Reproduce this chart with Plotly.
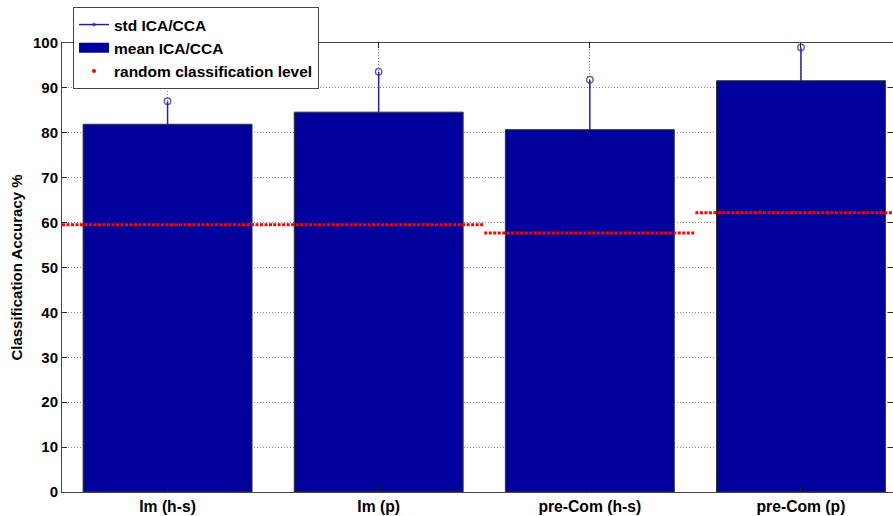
import plotly.graph_objects as go

categories = ["Im (h-s)", "Im (p)", "pre-Com (h-s)", "pre-Com (p)"]
mean_acc = [81.9, 84.6, 80.7, 91.6]
std_acc = [5.1, 9.0, 11.1, 7.4]
random_level = [59.5, 59.5, 57.7, 62.2]
y_ticks = [0, 10, 20, 30, 40, 50, 60, 70, 80, 90, 100]

xs = list(range(1, len(categories) + 1))
FONT = "Liberation Sans, Arial, sans-serif"
BLUE = "#00009a"
STEM = "#2323a8"

fig = go.Figure()

# std stems with circle at top
sx, sy, ss = [], [], []
for x, m, s in zip(xs, mean_acc, std_acc):
    sx += [x, x, None]
    sy += [m, m + s, None]
    ss += [0, 6.5, 0]
fig.add_trace(go.Scatter(
    x=sx, y=sy, mode="lines+markers", name="std ICA/CCA",
    line=dict(color=STEM, width=1.5),
    marker=dict(symbol="circle-open", size=ss, color=STEM, line=dict(width=1.5, color=STEM)),
    connectgaps=False,
))

fig.add_trace(go.Bar(
    x=xs, y=mean_acc, width=0.8, name="mean ICA/CCA", showlegend=False,
    marker=dict(color=BLUE, line=dict(color="#333333", width=1)),
))
# legend swatch for the bars (wide rectangle like the original)
fig.add_trace(go.Scatter(
    x=[None], y=[None], mode="lines", name="mean ICA/CCA",
    line=dict(color=BLUE, width=14),
))

# random classification level segments
for x, r in zip(xs, random_level):
    fig.add_trace(go.Scatter(
        x=[x - 0.5, x + 0.5], y=[r, r], mode="lines", showlegend=False,
        line=dict(color="#ff0000", width=3, dash="3px,1.5px"),
        hoverinfo="skip",
    ))
fig.add_trace(go.Scatter(
    x=[None], y=[None], mode="markers", name="random classification level",
    marker=dict(color="#ff0000", size=4, symbol="circle"),
))

fig.update_layout(
    width=893, height=516,
    margin=dict(l=62, r=0, t=43, b=24),
    plot_bgcolor="white", paper_bgcolor="white",
    font=dict(family=FONT, size=13, color="black"),
    showlegend=True,
    legend=dict(
        x=(73 - 62) / 831, y=(492 - 7) / 449, xanchor="left", yanchor="top",
        bgcolor="white", bordercolor="#444444", borderwidth=1,
        font=dict(family=FONT, size=15.5, color="black", weight="bold"),
        tracegroupgap=0, itemwidth=30,
    ),
)
fig.update_xaxes(
    range=[0.5, 4.436], automargin=False,
    tickmode="array", tickvals=xs, ticktext=categories,
    tickfont=dict(family=FONT, size=15.7, color="black", weight="bold"),
    showgrid=True, gridcolor="#8a8a8a", griddash="1px,2px", gridwidth=1,
    showline=True, linecolor="#444444", linewidth=1, mirror="ticks",
    ticks="inside", ticklen=5, tickcolor="#222222",
    zeroline=False,
)
fig.update_yaxes(
    range=[0, 100], automargin=False,
    tickmode="array", tickvals=y_ticks,
    tickfont=dict(family=FONT, size=15, color="black", weight="bold"),
    showgrid=True, gridcolor="#8a8a8a", griddash="1px,2px", gridwidth=1,
    showline=True, linecolor="#444444", linewidth=1, mirror="ticks",
    ticks="inside", ticklen=5, tickcolor="#222222",
    zeroline=False,
    title=dict(text="Classification Accuracy %", standoff=6,
               font=dict(family=FONT, size=15, color="black", weight="bold")),
)

fig.write_html(
    "out.html",
    config={"displayModeBar": False},
    post_script="document.body.style.margin='0';document.body.style.overflow='hidden';",
)
